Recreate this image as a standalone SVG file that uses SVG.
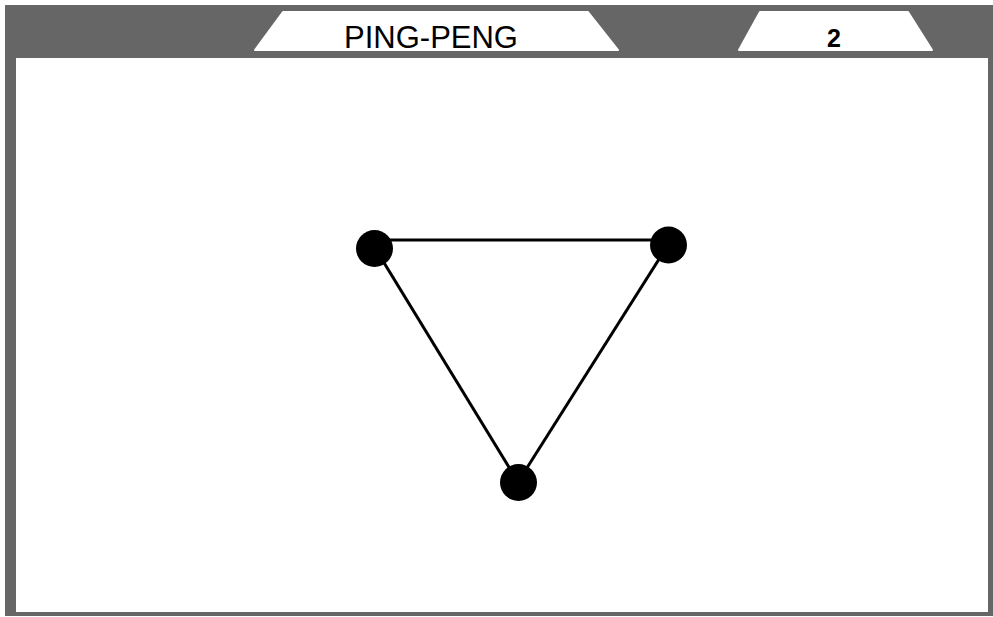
<svg xmlns="http://www.w3.org/2000/svg" width="993" height="617" viewBox="0 0 993 617">
<style>
.frame{fill:#666666}
.tab{fill:#ffffff;stroke:#ffffff;stroke-width:2;stroke-linejoin:round}
.edge{stroke:#000;stroke-width:3;fill:none}
.node{fill:#000}
.title{font-family:"Liberation Sans",Arial,sans-serif;fill:#000}
</style>
<rect width="993" height="617" fill="#ffffff"/>
<g id="frame">
<rect class="frame" x="5" y="5" width="988" height="611"/>
<rect x="16" y="58" width="972" height="554" fill="#ffffff"/>
</g>
<g id="tab-title">
<polygon class="tab" points="283,12 588,12 618,50 255,50"/>
<text class="title" x="431" y="48" font-size="31" text-anchor="middle">PING-PENG</text>
</g>
<g id="tab-number">
<polygon class="tab" points="760,12 908,12 932,50 739,50"/>
<text class="title" x="834" y="47" font-size="25" font-weight="bold" text-anchor="middle">2</text>
</g>
<g id="connectors">
<line class="edge" x1="375" y1="240" x2="668" y2="240"/>
<line class="edge" x1="375" y1="248" x2="518" y2="482"/>
<line class="edge" x1="668" y1="245" x2="518" y2="482"/>
</g>
<g id="node-a"><circle class="node" cx="374.5" cy="248.5" r="18.5"/></g>
<g id="node-b"><circle class="node" cx="668.5" cy="245" r="18.5"/></g>
<g id="node-c"><circle class="node" cx="518.5" cy="482.5" r="18.5"/></g>
</svg>
